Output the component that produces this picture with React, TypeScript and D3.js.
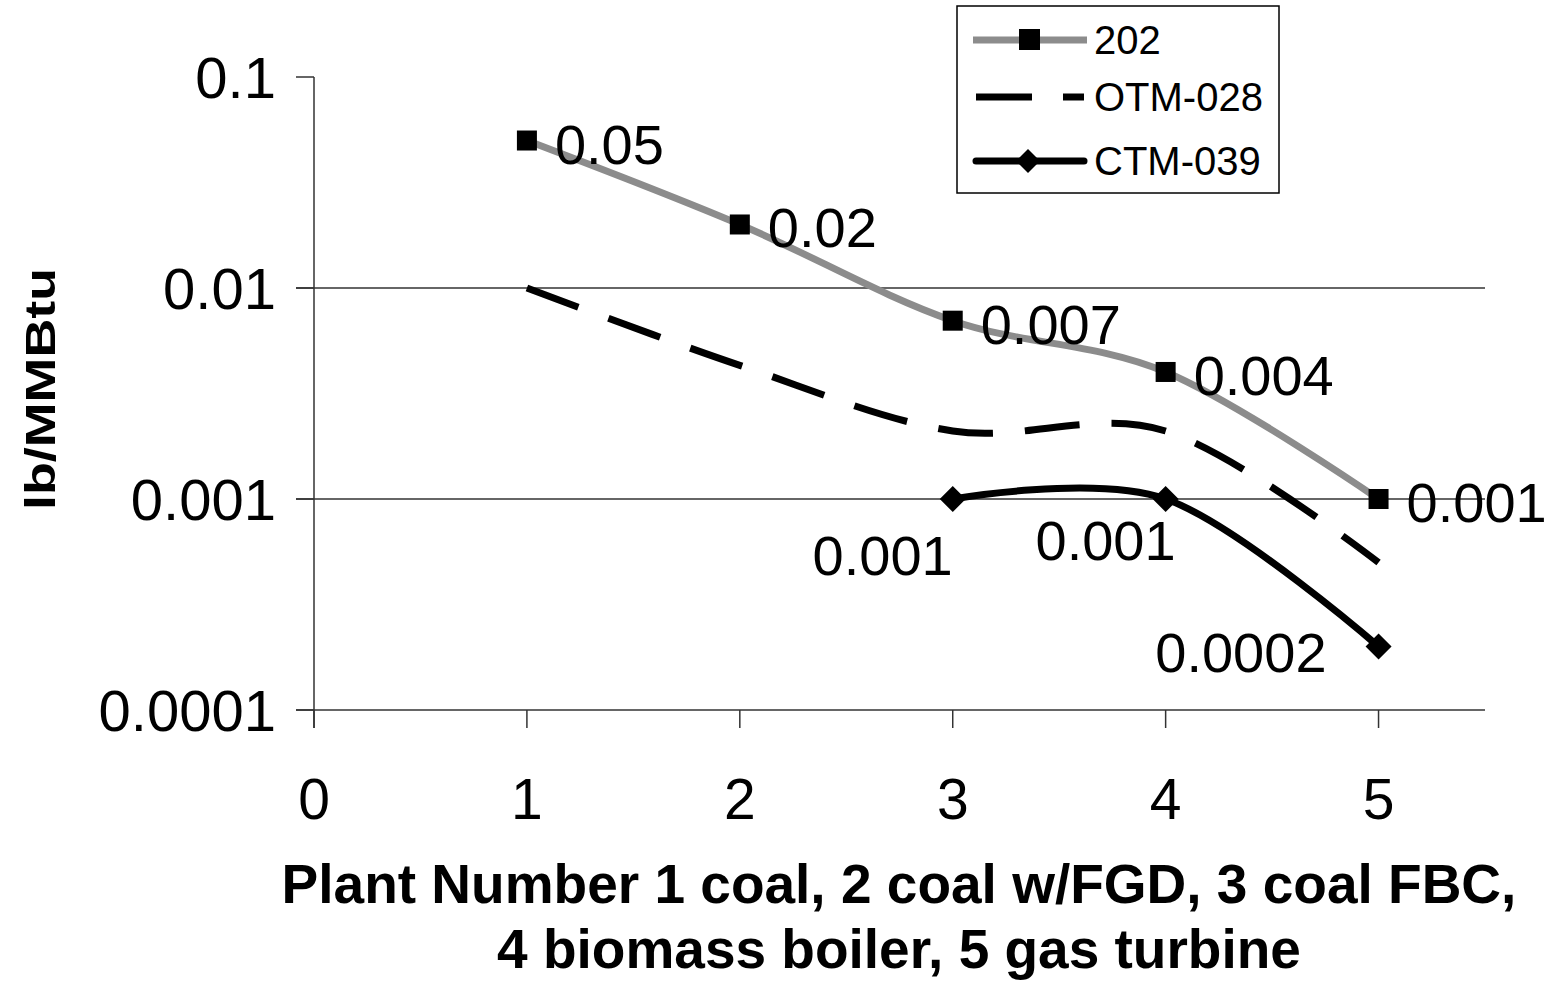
import React from "react";
import { scaleLinear, scaleLog, line, curveCardinal } from "d3";

// plant numbers on the x axis
const plants = [1, 2, 3, 4, 5];
const xTicks = [0, 1, 2, 3, 4, 5];
const yTicks = [0.1, 0.01, 0.001, 0.0001];
const yTickLabels = ["0.1", "0.01", "0.001", "0.0001"];
const gridValues = [0.01, 0.001];

// lb/MMBtu per method
const m202 = [0.05, 0.02, 0.007, 0.004, 0.001];
const otm028 = [0.01, 0.0043, 0.0021, 0.0021, 0.0005];
const ctm039Plants = [3, 4, 5];
const ctm039 = [0.001, 0.001, 0.0002];

const labels202 = ["0.05", "0.02", "0.007", "0.004", "0.001"];
const labelsCtm = ["0.001", "0.001", "0.0002"];

// hand placed data labels in Excel (dx, dy, anchor)
const ctmLabelPlace = [
  [0, 76, "end"],
  [10, 61, "end"],
  [-52, 26, "end"],
];

const W = 1547;
const H = 986;
const FONT = "'Liberation Sans', Arial, Helvetica, sans-serif";

export default function App() {
  const x = scaleLinear().domain([0, 5.5]).range([314, 1485]);
  const y = scaleLog().domain([0.0001, 0.1]).range([710, 77]);

  const smooth = line<[number, number]>()
    .x((d) => x(d[0]))
    .y((d) => y(d[1]))
    .curve(curveCardinal.tension(0));

  const pts202 = plants.map((p, i) => [p, m202[i]] as [number, number]);
  const ptsOtm = plants.map((p, i) => [p, otm028[i]] as [number, number]);
  const ptsCtm = ctm039Plants.map((p, i) => [p, ctm039[i]] as [number, number]);

  const sq = 20;
  const diamond = (cx: number, cy: number, r: number) =>
    `M${cx},${cy - r}L${cx + r},${cy}L${cx},${cy + r}L${cx - r},${cy}Z`;

  return (
    <svg
      width={W}
      height={H}
      style={{ display: "block", position: "absolute", left: 0, top: 0, background: "#fff" }}
      fontFamily={FONT}
    >
      {/* gridlines */}
      {gridValues.map((v) => (
        <line key={v} x1={296} x2={1485} y1={y(v)} y2={y(v)} stroke="#333" strokeWidth={1.3} />
      ))}
      {/* y axis */}
      <line x1={314} x2={314} y1={77} y2={728} stroke="#333" strokeWidth={1.5} />
      {yTicks.map((v, i) => (
        <g key={v}>
          <line x1={296} x2={314} y1={y(v)} y2={y(v)} stroke="#333" strokeWidth={1.5} />
          <text x={276} y={y(v)} dy="0.36em" textAnchor="end" fontSize={58}>
            {yTickLabels[i]}
          </text>
        </g>
      ))}
      {/* x axis */}
      <line x1={296} x2={1485} y1={710} y2={710} stroke="#333" strokeWidth={1.5} />
      {xTicks.map((t) => (
        <g key={t}>
          <line x1={x(t)} x2={x(t)} y1={710} y2={728} stroke="#333" strokeWidth={1.5} />
          <text x={x(t)} y={819} textAnchor="middle" fontSize={57}>
            {t}
          </text>
        </g>
      ))}

      {/* series 202 */}
      <path d={smooth(pts202) || ""} fill="none" stroke="#8c8c8c" strokeWidth={7} />
      {pts202.map((d, i) => (
        <g key={i}>
          <rect x={x(d[0]) - sq / 2} y={y(d[1]) - sq / 2} width={sq} height={sq} fill="#000" />
          <text x={x(d[0]) + 28} y={y(d[1]) + 23} fontSize={56}>
            {labels202[i]}
          </text>
        </g>
      ))}

      {/* series OTM-028 */}
      <path
        d={smooth(ptsOtm) || ""}
        fill="none"
        stroke="#000"
        strokeWidth={7}
        strokeDasharray="55 32"
      />

      {/* series CTM-039 */}
      <path d={smooth(ptsCtm) || ""} fill="none" stroke="#000" strokeWidth={7} strokeLinecap="round" />
      {ptsCtm.map((d, i) => (
        <g key={i}>
          <path d={diamond(x(d[0]), y(d[1]), 13)} fill="#000" />
          <text
            x={x(d[0]) + (ctmLabelPlace[i][0] as number)}
            y={y(d[1]) + (ctmLabelPlace[i][1] as number)}
            textAnchor={ctmLabelPlace[i][2] as string}
            fontSize={56}
          >
            {labelsCtm[i]}
          </text>
        </g>
      ))}

      {/* legend */}
      <rect x={957} y={6} width={322} height={187} fill="#fff" stroke="#000" strokeWidth={1.5} />
      <g>
        <line x1={973} x2={1087} y1={40} y2={40} stroke="#8c8c8c" strokeWidth={7} />
        <rect x={1019} y={29} width={21} height={21} fill="#000" />
        <text x={1094} y={54} fontSize={40}>202</text>

        <line x1={976} x2={1032} y1={97} y2={97} stroke="#000" strokeWidth={7} />
        <line x1={1063} x2={1084} y1={97} y2={97} stroke="#000" strokeWidth={7} />
        <text x={1094} y={111} fontSize={40}>OTM-028</text>

        <line x1={976} x2={1084} y1={161} y2={161} stroke="#000" strokeWidth={7} strokeLinecap="round" />
        <path d={diamond(1028, 161, 12)} fill="#000" />
        <text x={1094} y={175} fontSize={40}>CTM-039</text>
      </g>

      {/* axis titles */}
      <text
        transform={`translate(55, 389) rotate(-90)`}
        textAnchor="middle"
        fontSize={43}
        fontWeight="bold"
        textLength={242}
        lengthAdjust="spacingAndGlyphs"
      >
        lb/MMBtu
      </text>
      <text x={899} y={903} textAnchor="middle" fontSize={55} fontWeight="bold">
        Plant Number 1 coal, 2 coal w/FGD, 3 coal FBC,
      </text>
      <text x={899} y={968} textAnchor="middle" fontSize={55} fontWeight="bold">
        4 biomass boiler, 5 gas turbine
      </text>
    </svg>
  );
}
